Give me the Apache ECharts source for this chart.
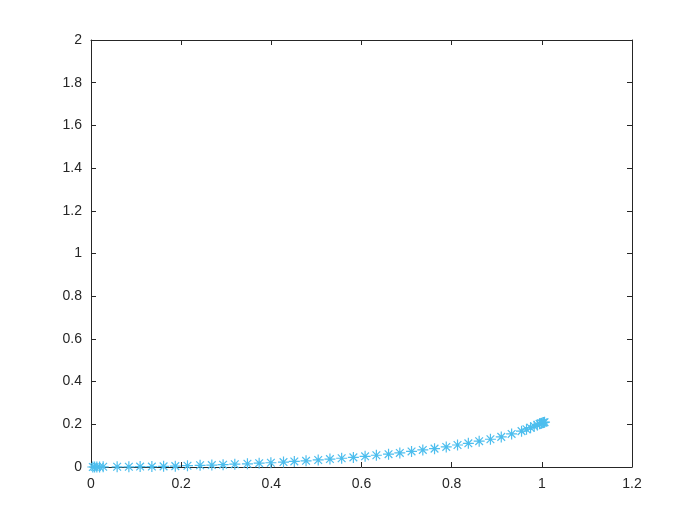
<!DOCTYPE html>
<html>
<head>
<meta charset="utf-8">
<script src="https://cdn.jsdelivr.net/npm/echarts@6/dist/echarts.min.js"></script>
<style>
html,body{margin:0;padding:0;background:#fff;}
#chart{width:700px;height:525px;}
</style>
</head>
<body>
<div id="chart"></div>
<script>
var xValues = [0.004, 0.008, 0.013, 0.019, 0.027,
  0.058, 0.084, 0.109, 0.135, 0.161, 0.187, 0.214, 0.242, 0.268, 0.293,
  0.319, 0.347, 0.373, 0.399, 0.427, 0.451, 0.477, 0.504, 0.530, 0.556,
  0.582, 0.608, 0.633, 0.660, 0.685, 0.711, 0.736, 0.762, 0.788, 0.813,
  0.837, 0.861, 0.886, 0.910, 0.933, 0.955,
  0.966, 0.975, 0.983, 0.990, 0.995, 0.999, 1.002, 1.004, 1.006];
var yValues = [0.000, 0.000, 0.000, 0.000, 0.001,
  0.001, 0.001, 0.002, 0.002, 0.003, 0.004, 0.006, 0.008, 0.009, 0.011,
  0.013, 0.015, 0.018, 0.020, 0.023, 0.026, 0.029, 0.033, 0.037, 0.041,
  0.045, 0.050, 0.055, 0.060, 0.066, 0.073, 0.080, 0.086, 0.094, 0.103,
  0.111, 0.121, 0.130, 0.141, 0.155, 0.168,
  0.177, 0.184, 0.191, 0.197, 0.202, 0.205, 0.207, 0.209, 0.210];
var xTicks = { min: 0, max: 1.2, step: 0.2 };
var yTicks = { min: 0, max: 2, step: 0.2 };

var points = xValues.map(function (x, i) { return [x, yValues[i]]; });
var axisColor = '#262626';
var font = { color: axisColor, fontSize: 14, fontFamily: 'Liberation Sans, Arial, sans-serif' };

function xAx(pos, showLabel) {
  return {
    type: 'value', position: pos, min: xTicks.min, max: xTicks.max, interval: xTicks.step,
    axisLine: { show: true, onZero: false, lineStyle: { color: axisColor, width: 1 } },
    axisTick: { show: true, inside: true, length: 5, lineStyle: { color: axisColor } },
    axisLabel: Object.assign({ show: showLabel, margin: 10 }, font),
    splitLine: { show: false }
  };
}
function yAx(pos, showLabel) {
  return {
    type: 'value', position: pos, min: yTicks.min, max: yTicks.max, interval: yTicks.step,
    axisLine: { show: true, onZero: false, lineStyle: { color: axisColor, width: 1 } },
    axisTick: { show: true, inside: true, length: 5, lineStyle: { color: axisColor } },
    axisLabel: Object.assign({ show: showLabel, margin: 9 }, font),
    splitLine: { show: false }
  };
}

var chart = echarts.init(document.getElementById('chart'), null, { renderer: 'canvas' });
chart.setOption({
  animation: false,
  backgroundColor: '#fff',
  grid: { left: 91, right: 68, top: 40, bottom: 58, containLabel: false },
  xAxis: [xAx('bottom', true), xAx('top', false)],
  yAxis: [yAx('left', true), yAx('right', false)],
  series: [{
    type: 'scatter',
    xAxisIndex: 0, yAxisIndex: 0,
    data: points,
    symbol: 'path://M5,0L5,10M0,5L10,5M1.5,1.5L8.5,8.5M1.5,8.5L8.5,1.5',
    symbolSize: 11,
    itemStyle: { color: 'rgba(0,0,0,0)', borderColor: '#4DBEEE', borderWidth: 1.2, opacity: 1 },
    clip: false
  }]
});
</script>
</body>
</html>
